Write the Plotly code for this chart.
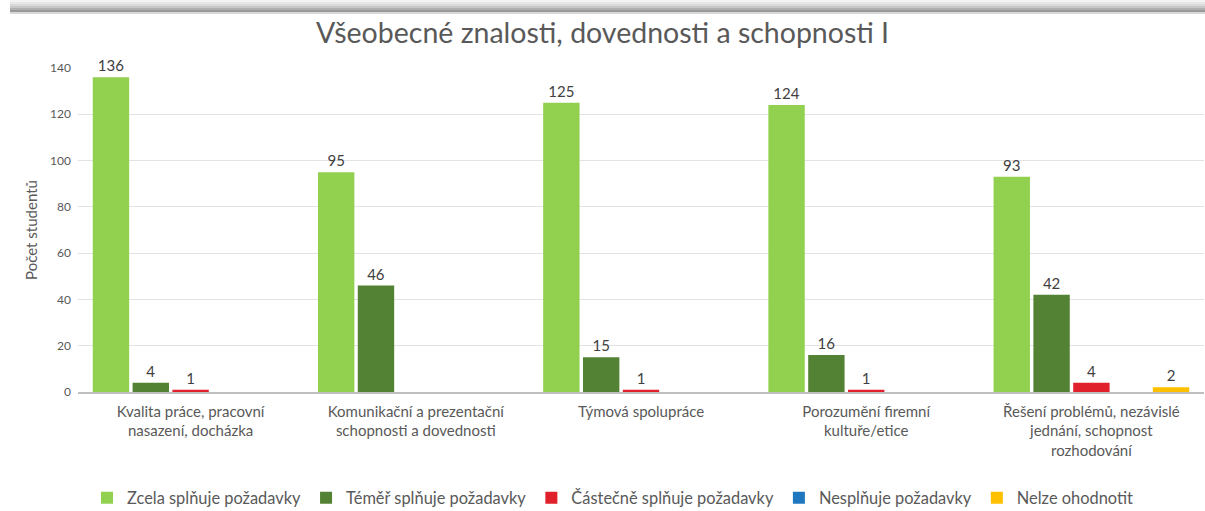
import plotly.graph_objects as go

# data
categories = [
    "Kvalita práce, pracovní<br>nasazení, docházka",
    "Komunikační a prezentační<br>schopnosti a dovednosti",
    "Týmová spolupráce",
    "Porozumění firemní<br>kultuře/etice",
    "Řešení problémů, nezávislé<br>jednání, schopnost<br>rozhodování",
]
series_names = [
    "Zcela splňuje požadavky",
    "Téměř splňuje požadavky",
    "Částečně splňuje požadavky",
    "Nesplňuje požadavky",
    "Nelze ohodnotit",
]
zcela = [136, 95, 125, 124, 93]
temer = [4, 46, 15, 16, 42]
castecne = [1, 0, 1, 1, 4]
nesplnuje = [0, 0, 0, 0, 0]
nelze = [0, 0, 0, 0, 2]
y_ticks = [0, 20, 40, 60, 80, 100, 120, 140]

colors = ["#92D050", "#548235", "#E0202A", "#1F77C0", "#FFC000"]
font = "Lato, 'Open Sans', sans-serif"
grey = "#595959"

W, H = 1205, 511
L, T, B = 78, 68, 119
plot_h = H - T - B
plot_w = W - L - 1


def px_x(px):
    return (px - L) / plot_w


def px_y(py):
    return (H - B - py) / plot_h


fig = go.Figure()
for name, vals, col in zip(series_names, [zcela, temer, castecne, nesplnuje, nelze], colors):
    fig.add_trace(go.Bar(
        name=name,
        x=categories,
        y=vals,
        marker=dict(color=col, line=dict(width=0)),
        text=[str(v) if v else "" for v in vals],
        textposition="outside",
        textfont=dict(size=15, color="#404040", family=font),
        constraintext="none",
        cliponaxis=False,
    ))

# screenshot frame: grey shaded band at the top
band = ["#F4F4F4", "#E8E8E8", "#DADADA", "#C8C8C8", "#B0B0B0", "#999999", "#D8D8D8"]
for i, c in enumerate(band):
    fig.add_shape(type="rect", xref="paper", yref="paper",
                  x0=px_x(10), x1=px_x(W + 2),
                  y0=px_y(2 * i + 2), y1=px_y(2 * i),
                  fillcolor=c, line=dict(width=0), layer="above")

fig.update_layout(
    width=W, height=H,
    margin=dict(l=L, r=1, t=T, b=B),
    paper_bgcolor="white", plot_bgcolor="white",
    font=dict(family=font, color=grey),
    title=dict(text="Všeobecné znalosti, dovednosti a schopnosti I",
               x=0.5, xref="container", xanchor="center",
               y=1 - 33 / H, yref="container", yanchor="middle",
               font=dict(size=28.5, color=grey, family=font)),
    barmode="group",
    bargap=0.116,
    bargroupgap=0.086,
    showlegend=True,
    legend=dict(orientation="h", x=87 / W, xref="container", xanchor="left",
                y=1 - 498 / H, yref="container", yanchor="middle",
                font=dict(size=16.4, color=grey, family=font),
                itemwidth=30, tracegroupgap=0),
)
fig.update_xaxes(
    range=[-0.5, 4.5],
    showline=True, linecolor="#BFBFBF", linewidth=1.5,
    ticks="", tickfont=dict(size=15, color=grey, family=font),
    ticklabelstandoff=5,
    showgrid=False,
)
fig.update_yaxes(
    range=[0, 140],
    tickvals=y_ticks,
    showgrid=True, gridcolor="#E3E3E3", gridwidth=1,
    zeroline=False, showline=False,
    ticks="", tickfont=dict(size=12, color=grey, family=font),
    ticklabelstandoff=6,
    title=dict(text="Počet studentů", font=dict(size=15, color=grey, family=font),
               standoff=8),
)

fig.write_html("out.html", config={"displayModeBar": False},
               post_script="document.body.style.margin='0';")
